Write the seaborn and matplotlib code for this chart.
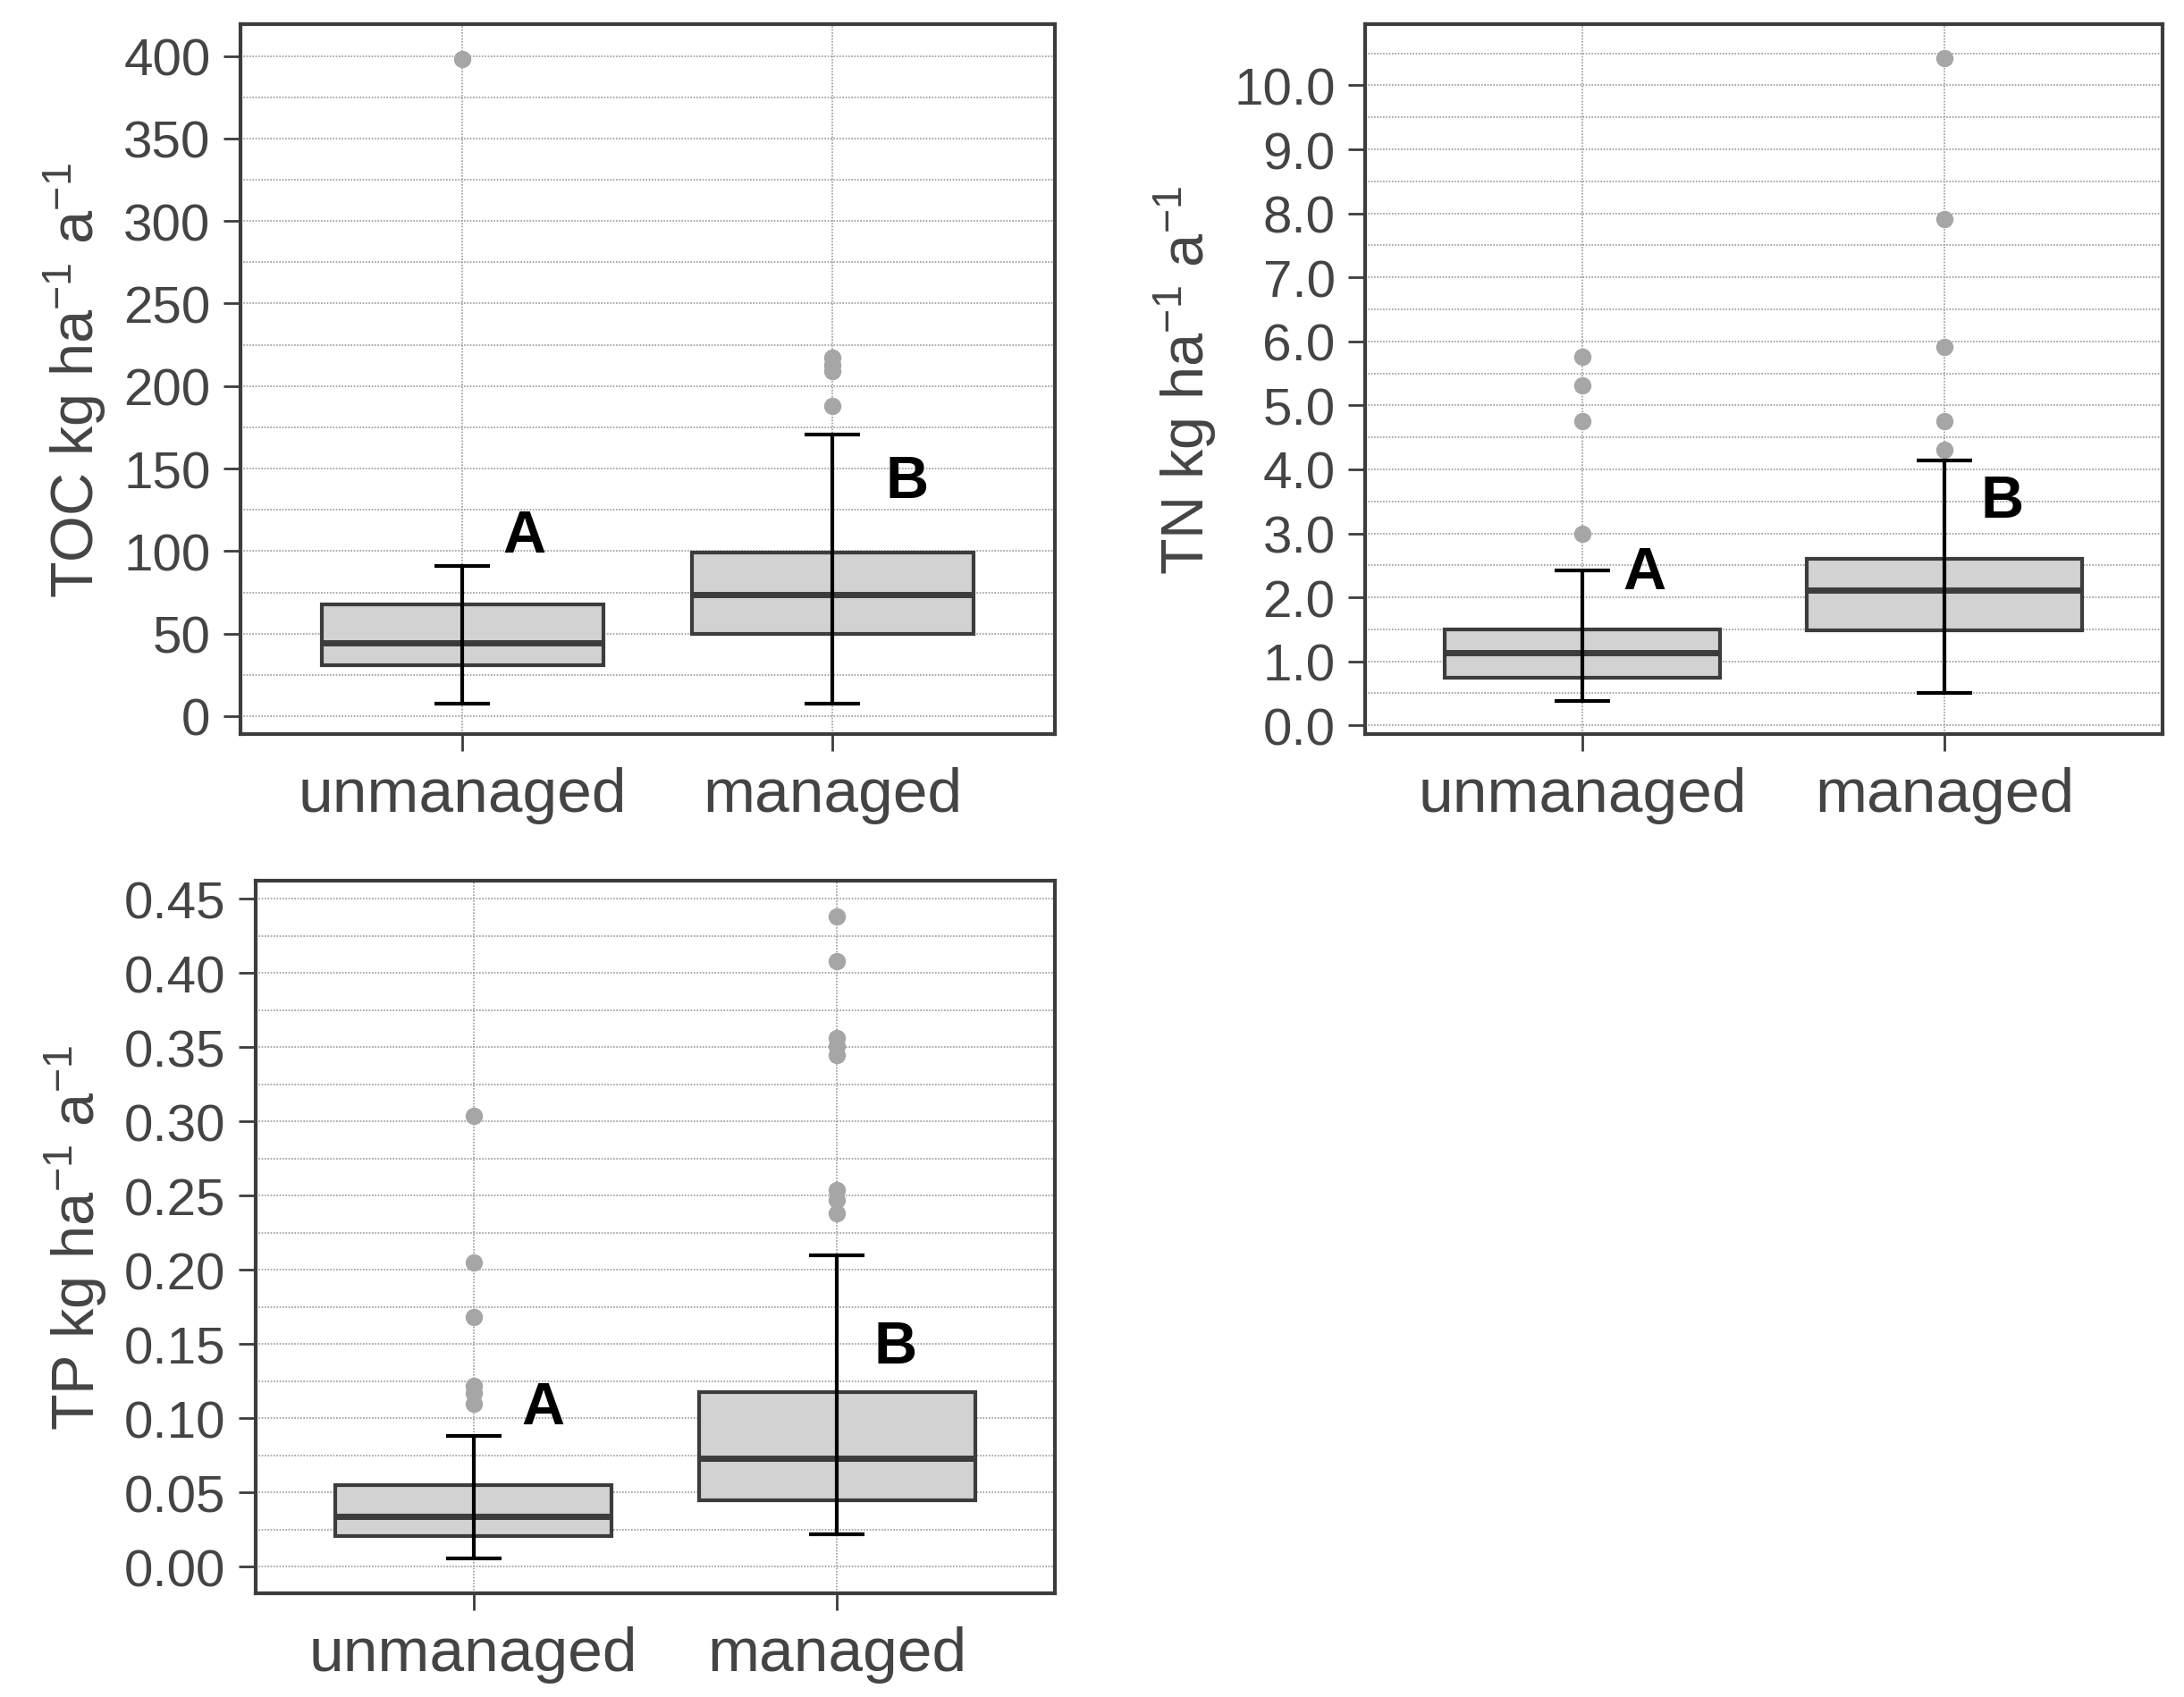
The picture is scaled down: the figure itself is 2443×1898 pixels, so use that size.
import numpy as np
import pandas as pd
import matplotlib
matplotlib.use("Agg")
import matplotlib.pyplot as plt
import seaborn as sns
from matplotlib.ticker import MultipleLocator, FormatStrFormatter

# Gruppen
groups = ["unmanaged", "managed"]

# TOC (kg ha-1 a-1)
toc_q1 = [31, 50]
toc_med = [44.5, 73.7]
toc_q3 = [67.6, 99]
toc_lo = [7.6, 7.6]
toc_hi = [91, 170.5]
toc_out_unmanaged = [398]
toc_out_managed = [188, 209, 213, 217]

# TN (kg ha-1 a-1)
tn_q1 = [0.74, 1.48]
tn_med = [1.14, 2.11]
tn_q3 = [1.50, 2.60]
tn_lo = [0.38, 0.50]
tn_hi = [2.42, 4.14]
tn_out_unmanaged = [2.99, 4.76, 5.31, 5.76]
tn_out_managed = [4.30, 4.76, 5.91, 7.91, 10.43]

# TP (kg ha-1 a-1)
tp_q1 = [0.0205, 0.045]
tp_med = [0.034, 0.073]
tp_q3 = [0.0547, 0.1177]
tp_lo = [0.0054, 0.0216]
tp_hi = [0.088, 0.210]
tp_out_unmanaged = [0.110, 0.117, 0.122, 0.168, 0.205, 0.304]
tp_out_managed = [0.238, 0.247, 0.254, 0.345, 0.351, 0.356, 0.408, 0.438]

sns.set_theme(style="ticks")
plt.rcParams['font.family'] = ['Liberation Sans', 'DejaVu Sans']
plt.rcParams['mathtext.fontset'] = 'custom'
plt.rcParams['mathtext.rm'] = 'Liberation Sans'
plt.rcParams['mathtext.it'] = 'Liberation Sans'

TICK_COL = "#444444"
EDGE_COL = "#3c3c3c"


def panel(ax, q1, med, q3, lo, hi, out_u, out_m, label, ylim, major, fmt, letters):
    stats = []
    for i in range(2):
        stats.append({"q1": q1[i], "med": med[i], "q3": q3[i],
                      "whislo": q1[i], "whishi": q3[i], "fliers": []})
    ax.bxp(stats, positions=[0, 1], widths=0.76, patch_artist=True,
           showcaps=False, showfliers=False,
           boxprops=dict(facecolor="#d2d2d2", edgecolor=EDGE_COL, linewidth=3),
           medianprops=dict(color=EDGE_COL, linewidth=5),
           whiskerprops=dict(linewidth=0), manage_ticks=False)

    # Ausreisser
    out = pd.DataFrame({
        "group": ["unmanaged"] * len(out_u) + ["managed"] * len(out_m),
        "value": out_u + out_m,
    })
    sns.stripplot(data=out, x="group", y="value", order=groups, jitter=False,
                  color="#a6a6a6", size=14, linewidth=0, ax=ax, zorder=4)

    # Fehlerbalken
    ax.errorbar([0, 1], med, yerr=[np.array(med) - np.array(lo), np.array(hi) - np.array(med)],
                fmt="none", ecolor="black", elinewidth=3, capsize=22, capthick=3, zorder=5)

    for (x, y, t) in letters:
        ax.text(x, y, t, ha="center", va="center", fontsize=48, fontweight="bold", color="black", zorder=6)

    # Gitter (nach stripplot, sonst wird es abgeschaltet)
    ax.yaxis.set_major_locator(MultipleLocator(major))
    ax.yaxis.set_minor_locator(MultipleLocator(major / 2))
    ax.yaxis.set_major_formatter(FormatStrFormatter(fmt))
    ax.yaxis.grid(True, which="both", color="#9a9a9a", linestyle=(0, (1, 1)), linewidth=1.2)
    ax.xaxis.grid(True, which="major", color="#9a9a9a", linestyle=(0, (1, 1)), linewidth=1.2)
    ax.set_axisbelow(True)

    ax.set_xlim(-0.6, 1.6)
    ax.set_ylim(*ylim)
    ax.set_xlabel("")
    ax.set_ylabel(label, fontsize=48, color=TICK_COL, labelpad=12)
    ax.set_xticks([0, 1])
    ax.set_xticklabels(groups)
    ax.tick_params(axis="y", which="major", labelsize=42, labelcolor=TICK_COL, length=14, width=2,
                   color=EDGE_COL, pad=10)
    ax.tick_params(axis="x", which="major", labelsize=50, labelcolor=TICK_COL, length=14, width=2,
                   color=EDGE_COL, pad=12)
    ax.tick_params(which="minor", length=0)
    for s in ax.spines.values():
        s.set_color(EDGE_COL)
        s.set_linewidth(3)


fig = plt.figure(figsize=(24.43, 18.99), dpi=100)
ax1 = fig.add_axes([0.110, 0.567, 0.373, 0.418])
ax2 = fig.add_axes([0.625, 0.567, 0.365, 0.418])
ax3 = fig.add_axes([0.117, 0.061, 0.366, 0.420])

panel(ax1, toc_q1, toc_med, toc_q3, toc_lo, toc_hi, toc_out_unmanaged, toc_out_managed,
      "TOC kg ha$^{-1}$ a$^{-1}$", (-11, 419), 50, "%d",
      [(0.166, 109, "A"), (1.2, 142, "B")])
panel(ax2, tn_q1, tn_med, tn_q3, tn_lo, tn_hi, tn_out_unmanaged, tn_out_managed,
      "TN kg ha$^{-1}$ a$^{-1}$", (-0.14, 10.95), 1, "%.1f",
      [(0.172, 2.38, "A"), (1.158, 3.5, "B")])
panel(ax3, tp_q1, tp_med, tp_q3, tp_lo, tp_hi, tp_out_unmanaged, tp_out_managed,
      "TP kg ha$^{-1}$ a$^{-1}$", (-0.018, 0.4625), 0.05, "%.2f",
      [(0.19, 0.107, "A"), (1.16, 0.148, "B")])

fig.savefig("out.png", dpi=100, facecolor="white")
